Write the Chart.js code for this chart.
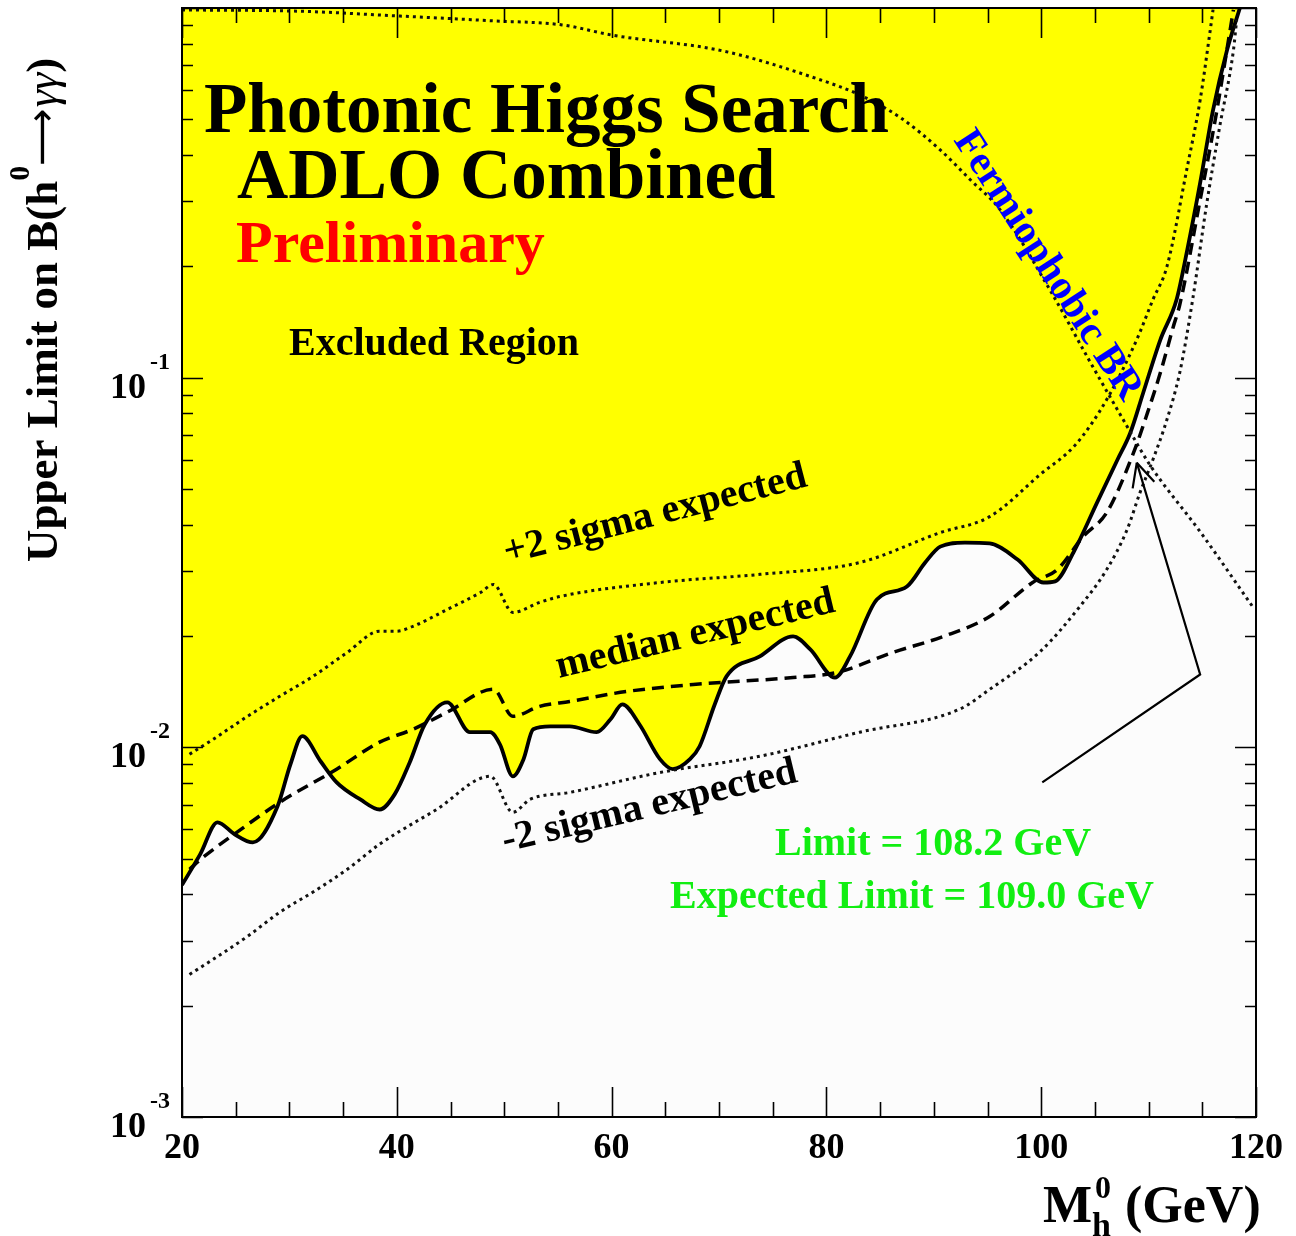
<!DOCTYPE html>
<html>
<head>
<meta charset="utf-8">
<script src="https://cdn.jsdelivr.net/npm/chart.js@4.4.1/dist/chart.umd.min.js"></script>
<style>
  html, body { margin: 0; padding: 0; background: #ffffff; }
  #wrap { width: 1296px; height: 1236px; position: relative; }
</style>
</head>
<body>
<div id="wrap"><canvas id="c" width="1296" height="1236"></canvas></div>
<script>
// Observed 95% CL upper limit on B(h0 -> gamma gamma) vs Higgs mass (GeV)
const obsMass = [20.0, 21.7, 23.3, 24.9, 26.6, 28.9, 30.1, 31.2, 32.9, 34.4, 36.6, 38.4, 39.8, 41.2, 42.6, 44.7, 46.8, 48.7, 49.6, 50.8,
                 51.8, 52.7, 54.3, 56.1, 58.6, 59.9, 61.0, 62.6, 64.5, 65.7, 67.3, 68.2, 69.6, 70.7, 73.8, 76.9, 78.5, 80.8, 82.2, 84.7,
                 87.5, 89.2, 90.6, 92.9, 95.2, 97.8, 100.2, 101.3, 103.0, 105.2, 107.1, 108.3, 109.5, 111.1, 112.6, 113.6, 114.8, 116.0, 117.3, 118.5];
const obsLimit = [0.00424, 0.00514, 0.00627, 0.00582, 0.00553, 0.00693, 0.00900, 0.01072, 0.00917, 0.00804, 0.00723, 0.00679, 0.00746, 0.00910, 0.01153, 0.01324, 0.01099, 0.01099, 0.01019, 0.00835,
                  0.00929, 0.01119, 0.01140, 0.01140, 0.01099, 0.01191, 0.01306, 0.01153, 0.00929, 0.00873, 0.00929, 0.01007, 0.01306, 0.01556, 0.01762, 0.01995, 0.01840, 0.01545, 0.01762, 0.02512,
                  0.02723, 0.03162, 0.03491, 0.03581, 0.03560, 0.03221, 0.02792, 0.02812, 0.03365, 0.04592, 0.05998, 0.07096, 0.09103, 0.1268, 0.1625, 0.2218, 0.3365, 0.5297, 0.7690, 1.0];

// Median expected limit
const medMass = [20.7, 22.0, 25.1, 29.1, 34.4, 38.4, 41.5, 44.7, 49.0, 50.8, 53.3, 56.1, 61.4, 67.6, 76.9, 81.0, 86.2, 90.9, 95.2, 99.2,
                 101.5, 103.9, 106.1, 108.6, 109.9, 111.1, 112.3, 112.9, 114.8, 116.2, 117.9];
const medLimit = [0.00468, 0.00505, 0.00589, 0.00710, 0.00873, 0.01033, 0.01119, 0.01245, 0.01436, 0.01213, 0.01291, 0.01331, 0.01416, 0.01479, 0.01545, 0.01595, 0.01807, 0.01995, 0.02259, 0.02792,
                  0.03027, 0.03715, 0.04315, 0.06266, 0.08041, 0.1032, 0.1374, 0.1575, 0.3027, 0.4977, 0.989];

// +2 sigma expected band edge
const plusMass = [20.7, 22.9, 26.1, 29.1, 32.2, 35.4, 38.4, 40.0, 41.5, 44.7, 47.8, 49.0, 50.8, 53.3, 55.2, 64.5, 73.8, 83.1, 90.6, 95.2,
                  99.9, 103.2, 106.1, 108.9, 110.4, 111.7, 113.6, 114.8, 115.7, 116.0];
const plusLimit = [0.00958, 0.01051, 0.01213, 0.01374, 0.01556, 0.01807, 0.02061, 0.02061, 0.02125, 0.02360, 0.02624, 0.02759, 0.02317, 0.02466, 0.02559, 0.02792, 0.02937, 0.03162, 0.03811, 0.04207,
                   0.05470, 0.06590, 0.08725, 0.1268, 0.1625, 0.1995, 0.3715, 0.5637, 0.8551, 0.99];

// -2 sigma expected band edge
const minusMass = [20.7, 22.9, 26.1, 29.1, 32.2, 35.4, 38.4, 43.7, 48.7, 50.8, 52.4, 56.1, 64.5, 73.8, 83.1, 92.4, 95.2, 99.9, 103.6, 106.1,
                   108.0, 109.2, 110.4, 111.7, 112.9, 114.1, 115.4, 116.6, 117.9, 118.2];
const minusLimit = [0.00243, 0.00267, 0.00308, 0.00358, 0.00406, 0.00468, 0.00547, 0.00679, 0.00835, 0.00667, 0.00723, 0.00755, 0.00855, 0.00946, 0.01099, 0.01268, 0.01435, 0.01815, 0.02404, 0.03027,
                    0.03882, 0.04887, 0.05998, 0.07691, 0.1032, 0.1625, 0.294, 0.474, 0.769, 0.929];

// Fermiophobic Higgs branching ratio into two photons
const fermiMass = [20.0, 31.0, 40.3, 49.0, 55.4, 60.0, 70.4, 78.9, 83.1, 86.9, 90.6, 93.4, 96.2, 100.8, 104.5, 108.0, 110.1, 114.8, 119.7];
const fermiBR   = [0.988, 0.980, 0.951, 0.923, 0.900, 0.845, 0.765, 0.647, 0.582, 0.505, 0.413, 0.343, 0.284, 0.173, 0.111, 0.0738, 0.0582, 0.0383, 0.0240];

// Arrow pointing at the expected-limit crossing
const arrowMass  = [100.1, 114.8, 108.9];
const arrowLevel = [0.00804, 0.01574, 0.0589];

// Axis ticks
const xMajorTicks = [20, 40, 60, 80, 100, 120];
const xMinorStep = 5;
const yDecades = [-3, -2, -1, 0];

const pts = (xs, ys) => xs.map((x, i) => ({ x: x, y: ys[i] }));

const SERIF = '"Liberation Serif", "Times New Roman", "DejaVu Serif", serif';
const YELLOW = '#ffff00';

function drawRuns(ctx, x, y, runs) {
  let cx = x;
  for (const r of runs) {
    ctx.font = r.font;
    ctx.fillStyle = r.color || '#000';
    ctx.fillText(r.t, cx, y + (r.dy || 0));
    cx += ctx.measureText(r.t).width + (r.gap || 0);
  }
  return cx - x;
}

function rotatedText(ctx, text, x, y, deg, font, color) {
  ctx.save();
  ctx.translate(x, y);
  ctx.rotate(deg * Math.PI / 180);
  ctx.font = font;
  ctx.fillStyle = color;
  ctx.textAlign = 'left';
  ctx.textBaseline = 'alphabetic';
  ctx.fillText(text, 0, 0);
  ctx.restore();
}

const frame = {
  id: 'frame',
  beforeDraw(chart) {
    const { ctx, chartArea: a } = chart;
    ctx.save();
    ctx.fillStyle = '#ffffff';
    ctx.fillRect(0, 0, chart.width, chart.height);
    ctx.fillStyle = '#fcfcfc';
    ctx.fillRect(a.left, a.top, a.right - a.left, a.bottom - a.top);
    ctx.restore();
  },
  afterDatasetsDraw(chart) {
    const { ctx, chartArea: a } = chart;
    const xs = chart.scales.x, ys = chart.scales.y;
    ctx.save();

    // arrow
    const ap = arrowMass.map((m, i) => [xs.getPixelForValue(m), ys.getPixelForValue(arrowLevel[i])]);
    ctx.strokeStyle = '#000';
    ctx.lineWidth = 2.2;
    ctx.beginPath();
    ctx.moveTo(ap[0][0], ap[0][1]);
    for (let i = 1; i < ap.length; i++) ctx.lineTo(ap[i][0], ap[i][1]);
    ctx.stroke();
    const tip = ap[ap.length - 1], prev = ap[ap.length - 2];
    const ang = Math.atan2(tip[1] - prev[1], tip[0] - prev[0]);
    ctx.beginPath();
    for (const s of [-1, 1]) {
      const b = ang + Math.PI + s * 0.45;
      ctx.moveTo(tip[0], tip[1]);
      ctx.lineTo(tip[0] + 26 * Math.cos(b), tip[1] + 26 * Math.sin(b));
    }
    ctx.stroke();

    // frame
    ctx.lineWidth = 2;
    ctx.strokeStyle = '#000';
    ctx.strokeRect(a.left, a.top, a.right - a.left, a.bottom - a.top);

    // x ticks (bottom and top)
    ctx.lineWidth = 1.6;
    ctx.beginPath();
    for (let m = xMajorTicks[0]; m <= xMajorTicks[xMajorTicks.length - 1]; m += xMinorStep) {
      const px = Math.round(xs.getPixelForValue(m)) + 0.5;
      const len = xMajorTicks.includes(m) ? 30 : 15;
      ctx.moveTo(px, a.bottom); ctx.lineTo(px, a.bottom - len);
      ctx.moveTo(px, a.top); ctx.lineTo(px, a.top + len);
    }
    // y ticks (left and right)
    for (let di = 0; di < yDecades.length; di++) {
      const d = yDecades[di];
      const kmax = di === yDecades.length - 1 ? 1 : 9;
      for (let k = 1; k <= kmax; k++) {
        const py = Math.round(ys.getPixelForValue(k * Math.pow(10, d))) + 0.5;
        const len = k === 1 ? 21 : 11;
        ctx.moveTo(a.left, py); ctx.lineTo(a.left + len, py);
        ctx.moveTo(a.right, py); ctx.lineTo(a.right - len, py);
      }
    }
    ctx.stroke();

    // x tick labels
    ctx.fillStyle = '#000';
    ctx.font = 'bold 36px ' + SERIF;
    ctx.textAlign = 'center';
    ctx.textBaseline = 'alphabetic';
    for (const m of xMajorTicks) {
      ctx.fillText(String(m), xs.getPixelForValue(m), a.bottom + 41);
    }
    // y tick labels 10^n
    for (const d of yDecades.slice(0, 3)) {
      const py = ys.getPixelForValue(Math.pow(10, d));
      ctx.textAlign = 'right';
      ctx.font = 'bold 36px ' + SERIF;
      ctx.fillText('10', 146, py + 20);
      ctx.textAlign = 'left';
      ctx.font = 'bold 24px ' + SERIF;
      ctx.fillText(String(d), 150, py - 9);
    }

    // axis titles
    ctx.textAlign = 'left';
    drawRuns(ctx, 1043, 1222, [
      { t: 'M', font: 'bold 52px ' + SERIF },
      { t: 'h', font: 'bold 34px ' + SERIF, dy: 14, gap: -16 },
      { t: '0', font: 'bold 32px ' + SERIF, dy: -24, gap: 14 },
      { t: '(GeV)', font: 'bold 52px ' + SERIF }
    ]);
    ctx.save();
    ctx.translate(57, 562);
    ctx.rotate(-Math.PI / 2);
    drawRuns(ctx, 0, 0, [
      { t: 'Upper Limit on B(h', font: 'bold 45px ' + SERIF },
      { t: '0', font: 'bold 30px ' + SERIF, dy: -28, gap: 0 },
      { t: '\u27f6', font: '40px "DejaVu Sans", sans-serif', dy: -2, gap: 1 },
      { t: '\u03b3\u03b3', font: 'italic 44px ' + SERIF },
      { t: ')', font: 'bold 45px ' + SERIF }
    ]);
    ctx.restore();

    // headings
    ctx.font = 'bold 71px ' + SERIF;
    ctx.fillStyle = '#000';
    ctx.fillText('Photonic Higgs Search', 204, 132);
    ctx.fillText('ADLO Combined', 237, 198);
    ctx.font = 'bold 60px ' + SERIF;
    ctx.fillStyle = '#ff0000';
    ctx.fillText('Preliminary', 236, 262);
    ctx.font = 'bold 40px ' + SERIF;
    ctx.fillStyle = '#000';
    ctx.fillText('Excluded Region', 289, 355);

    // curve labels
    rotatedText(ctx, '+2 sigma expected', 507, 564, -14.5, 'bold 40px ' + SERIF, '#000');
    rotatedText(ctx, 'median expected', 559, 678, -13.5, 'bold 40px ' + SERIF, '#000');
    rotatedText(ctx, '-2 sigma expected', 505, 852, -13.5, 'bold 40px ' + SERIF, '#000');
    rotatedText(ctx, 'Fermiophobic BR', 953, 140, 57, 'bold 41px ' + SERIF, '#0000ff');

    // limit values
    ctx.textAlign = 'center';
    ctx.font = 'bold 40px ' + SERIF;
    ctx.fillStyle = '#11ee11';
    ctx.fillText('Limit = 108.2 GeV', 933, 855);
    ctx.fillText('Expected Limit = 109.0 GeV', 912, 908);
    ctx.restore();
  }
};

const dotted = { borderColor: '#111', borderWidth: 3, borderDash: [3, 4], borderCapStyle: 'butt', fill: false };

new Chart(document.getElementById('c'), {
  type: 'line',
  data: {
    datasets: [
      { label: 'Observed', data: pts(obsMass, obsLimit), borderColor: '#000', borderWidth: 3.8,
        backgroundColor: YELLOW, fill: 'end', order: 5 },
      { label: 'Fermiophobic BR', data: pts(fermiMass, fermiBR), ...dotted, order: 4 },
      { label: '+2 sigma expected', data: pts(plusMass, plusLimit), ...dotted, order: 3 },
      { label: '-2 sigma expected', data: pts(minusMass, minusLimit), ...dotted, order: 2 },
      { label: 'Median expected', data: pts(medMass, medLimit), borderColor: '#000', borderWidth: 3.5,
        borderDash: [12, 7], fill: false, order: 1 }
    ]
  },
  options: {
    responsive: false,
    animation: false,
    devicePixelRatio: 1,
    layout: { padding: { left: 182, right: 40, top: 8, bottom: 119 } },
    elements: {
      point: { radius: 0, hoverRadius: 0 },
      line: { cubicInterpolationMode: 'monotone' }
    },
    scales: {
      x: { type: 'linear', min: 20, max: 120, display: false },
      y: { type: 'logarithmic', min: 0.001, max: 1, display: false }
    },
    plugins: { legend: { display: false }, tooltip: { enabled: false } }
  },
  plugins: [frame]
});
</script>
</body>
</html>
